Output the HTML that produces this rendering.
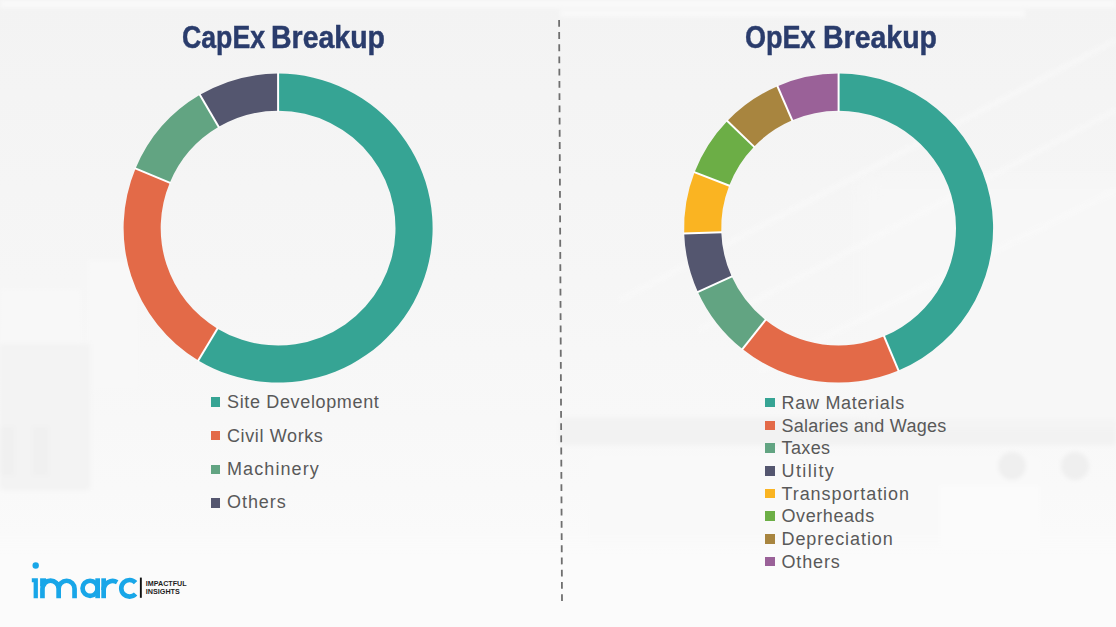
<!DOCTYPE html>
<html><head><meta charset="utf-8"><style>
html,body{margin:0;padding:0}
body{width:1116px;height:627px;overflow:hidden;position:relative;background:#f6f6f6;font-family:"Liberation Sans",sans-serif}
.bg{position:absolute;left:0;top:0;width:1116px;height:627px}
.t{position:absolute;font-weight:bold;font-size:30.5px;color:#2a3c6c;-webkit-text-stroke:0.45px #2a3c6c;white-space:nowrap;line-height:40px;transform-origin:0 0}
.lg{position:absolute;white-space:nowrap;color:#595959;font-size:18px;line-height:20px}
.lg i{position:absolute;width:9px;height:9px}
svg{position:absolute;left:0;top:0}
</style></head><body>
<svg class="bg" width="1116" height="627" viewBox="0 0 1116 627">
<defs>
<linearGradient id="g1" x1="0" y1="0" x2="0" y2="1"><stop offset="0" stop-color="#f3f3f3"/><stop offset="0.45" stop-color="#f6f6f6"/><stop offset="0.78" stop-color="#f9f9f9"/><stop offset="1" stop-color="#fcfcfc"/></linearGradient>
<filter id="bl" x="-5%" y="-5%" width="110%" height="110%"><feGaussianBlur stdDeviation="2"/></filter><filter id="bl2" x="-20%" y="-20%" width="140%" height="140%"><feGaussianBlur stdDeviation="10"/></filter>
</defs>
<rect width="1116" height="627" fill="url(#g1)"/>
<g filter="url(#bl)">
<rect x="0" y="0" width="1116" height="8" fill="#f9f9f9"/>
<rect x="560" y="10" width="465" height="7" fill="#f9f9f9"/>

<rect x="0" y="289" width="81" height="55" fill="#f8f8f8"/>
<rect x="88" y="260" width="51" height="129" fill="#f8f8f8"/>
<rect x="0" y="344" width="90" height="146" fill="#f3f3f3"/>
<rect x="0" y="427" width="14" height="48" fill="#f0f0f0"/>
<rect x="33" y="427" width="15" height="48" fill="#f0f0f0"/>
<rect x="560" y="418" width="556" height="27" fill="#f2f2f2"/>
<rect x="590" y="457" width="450" height="91" fill="#f9f9f9"/>
<rect x="940" y="486" width="100" height="63" fill="#fbfbfb"/>
<circle cx="1012" cy="466" r="14" fill="#efefef"/>
<circle cx="1075" cy="466" r="14" fill="#efefef"/>

</g>
<g filter="url(#bl2)"><rect x="860" y="180" width="300" height="240" fill="#f7f7f7"/><rect x="-40" y="545" width="1200" height="120" fill="#fbfbfb"/></g>
<g stroke="#fbfbfb" stroke-width="3" fill="none" opacity="0.8" filter="url(#bl)">
<path d="M620 300L1116 40M700 330L1116 110M760 370L1116 190"/>
</g>
</svg>
<div class="t" style="left:181.9px;top:17.3px;transform:scaleX(0.875)">CapEx</div>
<div class="t" style="left:271.2px;top:17.3px;transform:scaleX(0.934)">Breakup</div>
<div class="t" style="left:745px;top:17.3px;transform:scaleX(0.887)">OpEx</div>
<div class="t" style="left:822.5px;top:17.3px;transform:scaleX(0.934)">Breakup</div>
<svg width="1116" height="627" viewBox="0 0 1116 627">
<path d="M278.10 73.60A154.5 154.5 0 1 1 198.30 360.39L217.46 328.63A117.4 117.4 0 1 0 278.10 110.70Z" fill="#36a494"/><path d="M198.30 360.39A154.5 154.5 0 0 1 135.57 168.48L169.79 182.79A117.4 117.4 0 0 0 217.46 328.63Z" fill="#e36a48"/><path d="M135.57 168.48A154.5 154.5 0 0 1 199.92 94.84L218.69 126.84A117.4 117.4 0 0 0 169.79 182.79Z" fill="#62a482"/><path d="M199.92 94.84A154.5 154.5 0 0 1 278.10 73.60L278.10 110.70A117.4 117.4 0 0 0 218.69 126.84Z" fill="#54566f"/><g stroke="#fff" stroke-width="2"><line x1="278.10" y1="111.70" x2="278.10" y2="72.60"/><line x1="217.98" y1="327.77" x2="197.78" y2="361.25"/><line x1="170.72" y1="183.18" x2="134.65" y2="168.09"/><line x1="219.20" y1="127.70" x2="199.41" y2="93.98"/></g>
<path d="M838.60 73.60A154.5 154.5 0 0 1 898.47 370.53L884.09 336.33A117.4 117.4 0 0 0 838.60 110.70Z" fill="#36a494"/><path d="M898.47 370.53A154.5 154.5 0 0 1 742.42 349.01L765.52 319.98A117.4 117.4 0 0 0 884.09 336.33Z" fill="#e36a48"/><path d="M742.42 349.01A154.5 154.5 0 0 1 697.90 291.92L731.69 276.60A117.4 117.4 0 0 0 765.52 319.98Z" fill="#62a482"/><path d="M697.90 291.92A154.5 154.5 0 0 1 684.19 233.49L721.27 232.20A117.4 117.4 0 0 0 731.69 276.60Z" fill="#54566f"/><path d="M684.19 233.49A154.5 154.5 0 0 1 694.56 172.23L729.15 185.65A117.4 117.4 0 0 0 721.27 232.20Z" fill="#fab422"/><path d="M694.56 172.23A154.5 154.5 0 0 1 727.27 120.97L754.01 146.69A117.4 117.4 0 0 0 729.15 185.65Z" fill="#6cae46"/><path d="M727.27 120.97A154.5 154.5 0 0 1 777.49 86.20L792.16 120.27A117.4 117.4 0 0 0 754.01 146.69Z" fill="#a8853f"/><path d="M777.49 86.20A154.5 154.5 0 0 1 838.60 73.60L838.60 110.70A117.4 117.4 0 0 0 792.16 120.27Z" fill="#9a6198"/><g stroke="#fff" stroke-width="2"><line x1="838.60" y1="111.70" x2="838.60" y2="72.60"/><line x1="883.71" y1="335.40" x2="898.86" y2="371.45"/><line x1="766.14" y1="319.20" x2="741.80" y2="349.80"/><line x1="732.60" y1="276.19" x2="696.99" y2="292.34"/><line x1="722.27" y1="232.16" x2="683.19" y2="233.53"/><line x1="730.08" y1="186.01" x2="693.62" y2="171.87"/><line x1="754.73" y1="147.39" x2="726.55" y2="120.28"/><line x1="792.56" y1="121.19" x2="777.09" y2="85.28"/></g>
<line x1="559.1" y1="19.9" x2="562" y2="602" stroke="#6f6f6f" stroke-width="1.8" stroke-dasharray="6.8 5.42"/>
</svg>
<div class="lg" style="left:211px;top:0">
<i style="left:0;top:397.2px;height:9.5px;background:#36a494"></i><span style="position:absolute;left:16px;top:391.5px;letter-spacing:0.65px">Site Development</span>
<i style="left:0;top:431px;height:9.3px;background:#e36a48"></i><span style="position:absolute;left:16px;top:425.5px;letter-spacing:0.62px">Civil Works</span>
<i style="left:0;top:464.8px;height:9.3px;background:#62a482"></i><span style="position:absolute;left:16px;top:459.3px;letter-spacing:1.09px">Machinery</span>
<i style="left:0;top:498.1px;height:9.5px;background:#54566f"></i><span style="position:absolute;left:16px;top:492.4px;letter-spacing:0.95px">Others</span>
</div>
<div class="lg" style="left:765px;top:393px">
<div style="position:relative;height:22.7px"><i style="left:0;top:4.9px;width:10px;height:9.6px;background:#36a494"></i><span style="position:absolute;left:16.5px;top:0;letter-spacing:0.72px">Raw Materials</span></div>
<div style="position:relative;height:22.7px"><i style="left:0;top:4.9px;width:10px;height:9.6px;background:#e36a48"></i><span style="position:absolute;left:16.5px;top:0;letter-spacing:0.25px">Salaries and Wages</span></div>
<div style="position:relative;height:22.7px"><i style="left:0;top:4.9px;width:10px;height:9.6px;background:#62a482"></i><span style="position:absolute;left:16.5px;top:0;letter-spacing:0.4px">Taxes</span></div>
<div style="position:relative;height:22.7px"><i style="left:0;top:4.9px;width:10px;height:9.6px;background:#54566f"></i><span style="position:absolute;left:16.5px;top:0;letter-spacing:1.38px">Utility</span></div>
<div style="position:relative;height:22.7px"><i style="left:0;top:4.9px;width:10px;height:9.6px;background:#fab422"></i><span style="position:absolute;left:16.5px;top:0;letter-spacing:0.93px">Transportation</span></div>
<div style="position:relative;height:22.7px"><i style="left:0;top:4.9px;width:10px;height:9.6px;background:#6cae46"></i><span style="position:absolute;left:16.5px;top:0;letter-spacing:0.58px">Overheads</span></div>
<div style="position:relative;height:22.7px"><i style="left:0;top:4.9px;width:10px;height:9.6px;background:#a8853f"></i><span style="position:absolute;left:16.5px;top:0;letter-spacing:0.93px">Depreciation</span></div>
<div style="position:relative;height:22.7px"><i style="left:0;top:4.9px;width:10px;height:9.6px;background:#9a6198"></i><span style="position:absolute;left:16.5px;top:0;letter-spacing:0.86px">Others</span></div>
</div>
<!-- LOGO -->
<svg width="1116" height="627" viewBox="0 0 1116 627">
<g fill="#18a6e8">
<circle cx="35.7" cy="565.5" r="3.2"/>
<path d="M31.8 578.3H37.9V598.2H33.6V582.2H31.8Z"/>
<rect x="40.1" y="578.3" width="6" height="8"/>
<rect x="95.3" y="578.3" width="4.7" height="19.9"/>
<rect x="101.3" y="578.3" width="4.7" height="19.9"/>
</g>
<g fill="none" stroke="#18a6e8" stroke-width="4.7">
<path d="M42.45 598.2V588.7A8.1 8.1 0 0 1 58.65 588.7V598.2M58.65 588.7A7.95 7.95 0 0 1 74.55 588.7V598.2"/>
<circle cx="90.1" cy="588.3" r="7.55"/>
<path d="M103.65 590A9 9 0 0 1 117.2 582.2"/>
<path d="M135.6 582.6A8.3 8.3 0 1 0 135.6 594"/>
</g>
<rect x="139.9" y="577.6" width="1.9" height="20.2" fill="#111"/>
<text x="145.8" y="585.6" font-family="Liberation Sans" font-weight="bold" font-size="6.9" fill="#1e1e1e" textLength="40.8" lengthAdjust="spacingAndGlyphs">IMPACTFUL</text>
<text x="145.8" y="594" font-family="Liberation Sans" font-weight="bold" font-size="6.9" fill="#1e1e1e" textLength="34" lengthAdjust="spacingAndGlyphs">INSIGHTS</text>
</svg>
</body></html>
